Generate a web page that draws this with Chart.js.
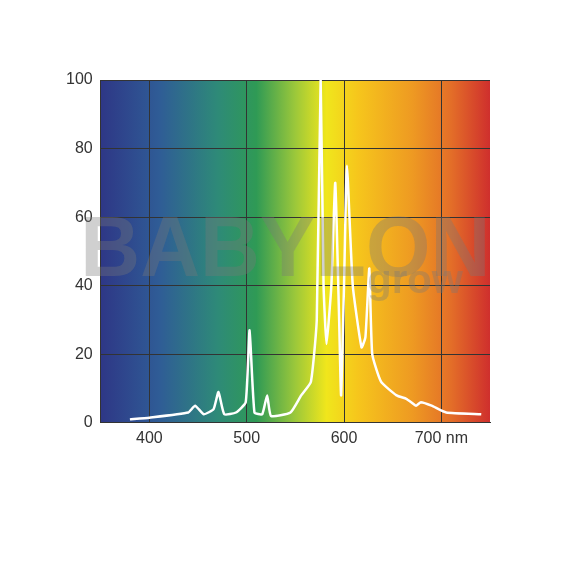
<!DOCTYPE html>
<html>
<head>
<script src="https://cdn.jsdelivr.net/npm/chart.js@4"></script>
<style>
  body { margin: 0; background: #fff; }
  #wrap { width: 570px; height: 570px; }
</style>
</head>
<body>
<div id="wrap"><canvas id="spectrum"></canvas></div>
<script>
// Spectrum data (wavelength nm, relative intensity)
const wavelengths = [380, 400, 440, 447, 456, 466, 471, 477, 489, 499, 503, 508, 516, 521, 525, 545, 556, 566, 572, 576, 579, 582, 587, 591, 595, 597, 600, 603, 609, 618, 622, 626, 629, 638, 654, 664, 669, 674, 679, 690, 705, 741];
const intensity   = [1, 1.5, 3, 5, 2.5, 4, 9, 2.5, 3, 6, 27, 3, 2.5, 8, 2, 3, 8, 12, 30, 100, 40, 23, 40, 70, 30, 8, 40, 75, 40, 22, 25, 45, 20, 12, 8, 7, 6, 5, 6, 5, 3, 2.5];
const xTicks = [400, 500, 600, 700];
const yTicks = [0, 20, 40, 60, 80, 100];

// Rainbow background behind the plot, watermark on top
const spectrumBg = {
  id: 'spectrumBg',
  beforeDraw(chart) {
    const { ctx, chartArea: a } = chart;
    const g = ctx.createLinearGradient(a.left, 0, a.right, 0);
    g.addColorStop(0.00, '#2e3786');
    g.addColorStop(0.15, '#2f5c96');
    g.addColorStop(0.30, '#2e8a78');
    g.addColorStop(0.40, '#2f9a55');
    g.addColorStop(0.50, '#9cc83a');
    g.addColorStop(0.58, '#f0e61c');
    g.addColorStop(0.66, '#f6c61c');
    g.addColorStop(0.80, '#ee9a22');
    g.addColorStop(0.90, '#e36e28');
    g.addColorStop(1.00, '#cf2f2d');
    ctx.save();
    ctx.fillStyle = g;
    ctx.fillRect(a.left, a.top, a.right - a.left, a.bottom - a.top);
    ctx.restore();
  },
  afterDatasetsDraw(chart) {
    const { ctx, chartArea: a } = chart;
    ctx.save();
    ctx.fillStyle = 'rgba(120,120,120,0.35)';
    ctx.font = 'bold 86px "Liberation Sans", Arial, sans-serif';
    ctx.textBaseline = 'middle';
    ctx.textAlign = 'center';
    ctx.fillText('BABYLON', (a.left + a.right) / 2 - 10, 252, 410);
    ctx.font = 'bold 40px "Liberation Sans", Arial, sans-serif';
    ctx.fillText('grow', 415, 282);
    ctx.restore();
  }
};

new Chart(document.getElementById('spectrum'), {
  type: 'line',
  data: {
    datasets: [{
      data: wavelengths.map((w, i) => ({ x: w, y: intensity[i] })),
      borderColor: '#ffffff',
      borderWidth: 2.5,
      pointRadius: 0,
      tension: 0.15,
      fill: false
    }]
  },
  options: {
    responsive: true,
    maintainAspectRatio: false,
    animation: false,
    layout: { padding: { left: 58, right: 80, top: 80, bottom: 116 } },
    plugins: { legend: { display: false }, tooltip: { enabled: false } },
    scales: {
      x: {
        type: 'linear',
        min: 350,
        max: 750,
        afterBuildTicks: (s) => { s.ticks = xTicks.map(v => ({ value: v })); },
        ticks: {
          color: '#333',
          padding: 6,
          font: { size: 16, family: '"Liberation Sans Narrow", "Liberation Sans", Arial' },
          callback: (v) => v === 700 ? '700 nm' : v
        },
        grid: { color: '#333', lineWidth: 1, drawTicks: false },
        border: { color: '#333' }
      },
      y: {
        min: 0,
        max: 100,
        afterBuildTicks: (s) => { s.ticks = yTicks.map(v => ({ value: v })); },
        ticks: {
          color: '#333',
          padding: 8,
          font: { size: 16, family: '"Liberation Sans Narrow", "Liberation Sans", Arial' }
        },
        grid: { color: '#333', lineWidth: 1, drawTicks: false },
        border: { color: '#333' }
      }
    }
  },
  plugins: [spectrumBg]
});
</script>
</body>
</html>
